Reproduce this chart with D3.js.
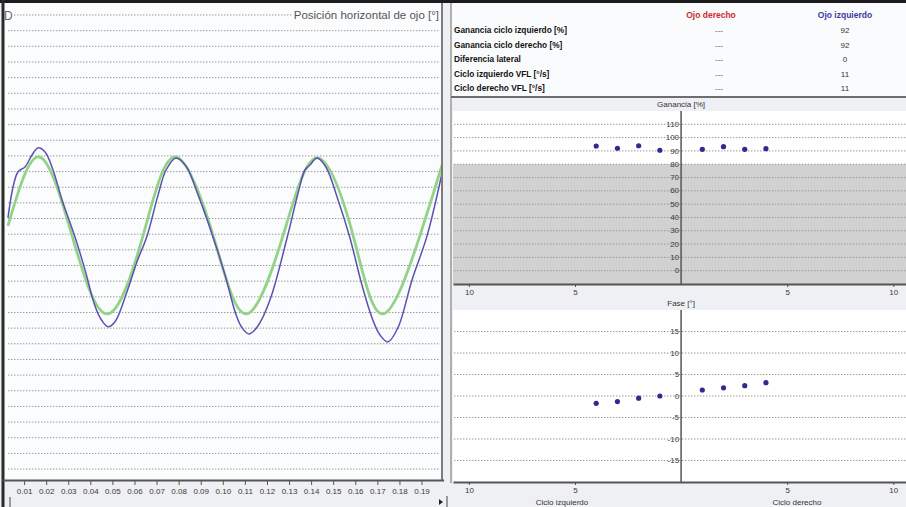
<!DOCTYPE html>
<html>
<head>
<meta charset="utf-8">
<script src="https://cdn.jsdelivr.net/npm/d3@7"></script>
<style>
  body { margin: 0; background: #eef0f3; }
  svg { display: block; font-family: 'Liberation Sans', Arial, sans-serif; }
  .grid line { stroke: #9c948e; stroke-width: 1; stroke-dasharray: 1.4 1.6; }
  .axis path, .axis line { stroke: #555; }
  .axis text { fill: #3a3a3a; font-size: 8px; font-family: 'Liberation Sans', Arial, sans-serif; }
</style>
</head>
<body>
<svg id="chart" width="906" height="507"></svg>
<script>
// ---- data ----
const timeTicks = [0.01, 0.02, 0.03, 0.04, 0.05, 0.06, 0.07, 0.08, 0.09, 0.10,
  0.11, 0.12, 0.13, 0.14, 0.15, 0.16, 0.17, 0.18, 0.19];

// stimulus (green)
const targetTime = [0.0027, 0.0168, 0.0317, 0.0476, 0.0639, 0.0784, 0.0956,
  0.1105, 0.1273, 0.1427, 0.1590, 0.1726, 0.1893, 0.1993];
const targetPos = [1.53, 5.93, 0.92, -4.09, 0.92, 5.93, 0.92,
  -4.09, 0.92, 5.87, 0.92, -4.09, 0.92, 5.42];

// eye position (blue)
const eyeTime = [0.0027, 0.0072, 0.0104, 0.0136, 0.0163, 0.0195, 0.0231, 0.0272, 0.0331,
  0.0376, 0.0421, 0.0453, 0.0480, 0.0512, 0.0566, 0.0611, 0.0657, 0.0707, 0.0743,
  0.0788, 0.0833, 0.0888, 0.0956, 0.1010, 0.1060, 0.1087, 0.1119, 0.1159, 0.1214,
  0.1291, 0.1341, 0.1372, 0.1395, 0.1427, 0.1467, 0.1522, 0.1576, 0.1630, 0.1676,
  0.1712, 0.1748, 0.1793, 0.1857, 0.1925, 0.1993];
const eyePos = [2.04, 4.97, 5.29, 6.06, 6.51, 6.25, 5.10, 3.19, 0.81,
  -1.28, -3.58, -4.53, -4.91, -4.59, -2.68, -0.77, 0.89, 3.51, 5.10,
  5.87, 5.36, 3.51, 0.81, -1.60, -4.15, -4.98, -5.37, -4.86, -3.19,
  0.76, 3.63, 5.10, 5.42, 5.87, 5.29, 3.19, 0.76, -2.24, -4.35,
  -5.44, -5.88, -4.98, -1.92, 0.89, 4.91];

const tableHeaders = ['Ojo derecho', 'Ojo izquierdo'];
const tableRows = ['Ganancia ciclo izquierdo [%]', 'Ganancia ciclo derecho [%]',
  'Diferencia lateral', 'Ciclo izquierdo VFL [°/s]', 'Ciclo derecho VFL [°/s]'];
const rightEyeValues = ['---', '---', '---', '---', '---'];
const leftEyeValues = ['92', '92', '0', '11', '11'];

const cycles = [1, 2, 3, 4];
const gainLeft = [90.5, 93.9, 92.0, 93.7];
const gainRight = [91.2, 93.2, 91.2, 91.7];
const phaseLeft = [0.0, -0.5, -1.3, -1.7];
const phaseRight = [1.4, 1.9, 2.4, 3.1];

const gainTicks = [0, 10, 20, 30, 40, 50, 60, 70, 80, 90, 100, 110];
const gainNormal = 80;
const phaseTicks = [-15, -10, -5, 0, 5, 10, 15];
const cycleTicks = [-10, -5, 5, 10];

// ---- drawing ----
const svg = d3.select('#chart');

svg.append('rect').attr('width', 906).attr('height', 3).attr('fill', '#1c1c1c');

// left panel: horizontal eye position
const lp = { x0: 4, x1: 442, y0: 3, y1: 480 };
const x = d3.scaleLinear().domain([0, 0.2]).range([2, 443.6]);
const y = d3.scaleLinear().domain([-14.7, 15]).range([lp.y1, 15]);

svg.append('rect')
  .attr('x', lp.x0).attr('y', lp.y0)
  .attr('width', lp.x1 - lp.x0).attr('height', lp.y1 - lp.y0)
  .attr('fill', '#fbfcfd');

svg.append('g')
  .attr('class', 'grid')
  .selectAll('line')
  .data(d3.range(-14, 16))
  .join('line')
  .attr('x1', 8).attr('x2', lp.x1 - 2)
  .attr('y1', d => y(d)).attr('y2', d => y(d));

svg.append('clipPath').attr('id', 'leftClip')
  .append('rect')
  .attr('x', lp.x0 + 2).attr('y', lp.y0)
  .attr('width', lp.x1 - lp.x0 - 2).attr('height', lp.y1 - lp.y0);

const traceLine = d3.line().x(d => x(d[0])).y(d => y(d[1]));

svg.append('path')
  .datum(d3.zip(targetTime, targetPos))
  .attr('clip-path', 'url(#leftClip)')
  .attr('fill', 'none')
  .attr('stroke', '#93d388')
  .attr('stroke-width', 2.8)
  .attr('d', traceLine.curve(d3.curveNatural));

svg.append('path')
  .datum(d3.zip(eyeTime, eyePos))
  .attr('clip-path', 'url(#leftClip)')
  .attr('fill', 'none')
  .attr('stroke', '#5b50b4')
  .attr('stroke-width', 1.5)
  .attr('d', traceLine.curve(d3.curveCatmullRom));

// title sits on top of the first grid line
const title = svg.append('text')
  .attr('x', lp.x1 - 3).attr('y', 19)
  .attr('text-anchor', 'end')
  .attr('font-size', 11.5)
  .attr('fill', '#555')
  .text('Posición horizontal de ojo [°]');
const tb = title.node().getBBox();
svg.insert('rect', 'text')
  .attr('x', tb.x - 2).attr('y', tb.y).attr('width', tb.width + 2).attr('height', tb.height)
  .attr('fill', '#fbfcfd');

svg.append('rect').attr('x', 5).attr('y', 9).attr('width', 8).attr('height', 12).attr('fill', '#fbfcfd');
svg.append('text')
  .attr('x', 4).attr('y', 20)
  .attr('font-size', 12)
  .attr('fill', '#666')
  .text('D');

// panel frame
svg.append('line').attr('x1', 3).attr('x2', 3).attr('y1', 0).attr('y2', 507)
  .attr('stroke', '#2a2a2a').attr('stroke-width', 3);
svg.append('line').attr('x1', lp.x1).attr('x2', lp.x1).attr('y1', 3).attr('y2', lp.y1)
  .attr('stroke', '#7c7c7c').attr('stroke-width', 2);

const timeAxis = svg.append('g')
  .attr('class', 'axis')
  .attr('transform', `translate(0, ${lp.y1})`)
  .call(d3.axisBottom(x).tickValues(timeTicks).tickSize(5).tickSizeOuter(0)
    .tickPadding(3).tickFormat(d3.format('.2f')));
timeAxis.select('.domain').attr('stroke-width', 2.2).attr('stroke', '#4a4a4a');

// scrollbar bits
svg.append('line').attr('x1', 10).attr('x2', 10).attr('y1', 497).attr('y2', 507)
  .attr('stroke', '#444').attr('stroke-width', 1);
svg.append('line').attr('x1', 447).attr('x2', 447).attr('y1', 496).attr('y2', 507)
  .attr('stroke', '#444').attr('stroke-width', 1);
svg.append('path').attr('d', 'M439,499 L443,502 L439,505 Z').attr('fill', '#222');

// right panel: table
const tableTop = 3;
const tableBottom = 97;
svg.append('rect')
  .attr('x', 451).attr('y', tableTop)
  .attr('width', 455).attr('height', tableBottom - tableTop)
  .attr('fill', '#fafbfc');
svg.append('line').attr('x1', 451).attr('x2', 451).attr('y1', tableTop).attr('y2', 483)
  .attr('stroke', '#9a9a9a').attr('stroke-width', 1.5);
svg.append('line').attr('x1', 451).attr('x2', 906).attr('y1', tableBottom).attr('y2', tableBottom)
  .attr('stroke', '#6e6e6e').attr('stroke-width', 2);

const colX = [711, 845];
svg.selectAll('text.head')
  .data(tableHeaders)
  .join('text')
  .attr('class', 'head')
  .attr('x', (d, i) => colX[i]).attr('y', 18)
  .attr('text-anchor', 'middle')
  .attr('font-size', 8.5).attr('font-weight', 'bold')
  .attr('fill', (d, i) => (i === 0 ? '#cc2a2a' : '#3a3aa0'))
  .text(d => d);

const rowY = i => 33 + i * 14.5;
svg.selectAll('text.rowLabel')
  .data(tableRows)
  .join('text')
  .attr('class', 'rowLabel')
  .attr('x', 454).attr('y', (d, i) => rowY(i))
  .attr('font-size', 8.3).attr('font-weight', 'bold')
  .attr('fill', '#111')
  .text(d => d);
svg.selectAll('text.rightEye')
  .data(rightEyeValues)
  .join('text')
  .attr('class', 'rightEye')
  .attr('x', 719).attr('y', (d, i) => rowY(i))
  .attr('text-anchor', 'middle')
  .attr('font-size', 8).attr('fill', '#555')
  .text(d => d);
svg.selectAll('text.leftEye')
  .data(leftEyeValues)
  .join('text')
  .attr('class', 'leftEye')
  .attr('x', colX[1]).attr('y', (d, i) => rowY(i))
  .attr('text-anchor', 'middle')
  .attr('font-size', 8).attr('fill', '#333')
  .text(d => d);

// right panel: gain and phase per cycle
const xC = d3.scaleLinear().domain([-10.75, 10.6]).range([453, 906]);

function drawCycleChart(cfg) {
  const { top, bottom, yScale, ticks, title: label, left, right } = cfg;
  svg.append('rect')
    .attr('x', 453).attr('y', top).attr('width', 453).attr('height', bottom - top)
    .attr('fill', '#ffffff');

  if (cfg.shadeBelow !== undefined) {
    svg.append('rect')
      .attr('x', 453).attr('y', yScale(cfg.shadeBelow))
      .attr('width', 453).attr('height', bottom - yScale(cfg.shadeBelow))
      .attr('fill', '#d1d1d1');
  }

  svg.append('g')
    .attr('class', 'grid')
    .selectAll('line')
    .data(ticks)
    .join('line')
    .attr('x1', 454).attr('x2', 906)
    .attr('y1', d => yScale(d)).attr('y2', d => yScale(d));

  svg.append('g')
    .selectAll('text')
    .data(ticks)
    .join('text')
    .attr('x', xC(0) - 2).attr('y', d => yScale(d))
    .attr('dy', '0.33em')
    .attr('text-anchor', 'end')
    .attr('font-size', 8).attr('fill', '#3a3a3a')
    .text(d => d);

  svg.append('line')
    .attr('x1', xC(0)).attr('x2', xC(0)).attr('y1', top).attr('y2', bottom)
    .attr('stroke', '#555').attr('stroke-width', 1.5);

  const ax = svg.append('g')
    .attr('class', 'axis')
    .attr('transform', `translate(0, ${bottom})`)
    .call(d3.axisBottom(xC).tickValues(cycleTicks).tickSize(3).tickSizeOuter(0)
      .tickPadding(2).tickFormat(d => Math.abs(d)));
  ax.select('.domain').attr('stroke-width', 1.8).attr('stroke', '#4a4a4a');

  svg.append('text')
    .attr('x', xC(0)).attr('y', top - 4)
    .attr('text-anchor', 'middle')
    .attr('font-size', 8).attr('fill', '#333')
    .text(label);

  // NOTE: left cycles run leftwards from the centre line
  const pts = cycles.map((c, i) => [-c, left[i]]).concat(cycles.map((c, i) => [c, right[i]]));
  svg.append('g')
    .selectAll('circle')
    .data(pts)
    .join('circle')
    .attr('cx', d => xC(d[0])).attr('cy', d => yScale(d[1]))
    .attr('r', 2.6)
    .attr('fill', '#2e2c8e');
}

drawCycleChart({
  top: 111, bottom: 284,
  yScale: d3.scaleLinear().domain([-10, 120]).range([284, 111]),
  ticks: gainTicks, title: 'Ganancia [%]',
  left: gainLeft, right: gainRight, shadeBelow: gainNormal,
});

drawCycleChart({
  top: 310, bottom: 482,
  yScale: d3.scaleLinear().domain([-20, 20]).range([482, 310]),
  ticks: phaseTicks, title: 'Fase [°]',
  left: phaseLeft, right: phaseRight,
});

svg.append('text').attr('x', 562).attr('y', 505).attr('text-anchor', 'middle')
  .attr('font-size', 8).attr('fill', '#333').text('Ciclo izquierdo');
svg.append('text').attr('x', 797).attr('y', 505).attr('text-anchor', 'middle')
  .attr('font-size', 8).attr('fill', '#333').text('Ciclo derecho');
</script>
</body>
</html>
